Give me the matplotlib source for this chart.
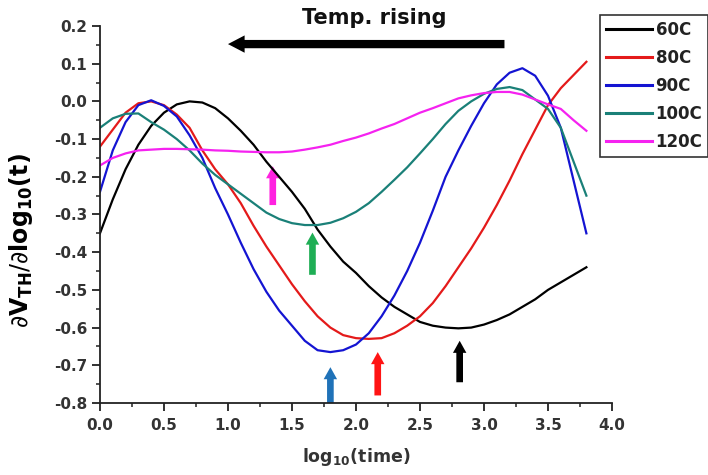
import matplotlib
matplotlib.use('Agg')
import matplotlib.pyplot as plt
import numpy as np
from matplotlib.ticker import MultipleLocator, FormatStrFormatter

plt.rcParams['font.family'] = ['DejaVu Sans']
plt.rcParams['mathtext.fontset'] = 'dejavusans'

# log10(time) sample points
x = [0.0, 0.1, 0.2, 0.3, 0.4, 0.5, 0.6, 0.7, 0.8, 0.9,
     1.0, 1.1, 1.2, 1.3, 1.4, 1.5, 1.6, 1.7, 1.8, 1.9,
     2.0, 2.1, 2.2, 2.3, 2.4, 2.5, 2.6, 2.7, 2.8, 2.9,
     3.0, 3.1, 3.2, 3.3, 3.4, 3.5, 3.6, 3.7, 3.8]

y60 = [-0.35, -0.26, -0.18, -0.115, -0.065, -0.03, -0.008, 0.0, -0.003, -0.018,
       -0.045, -0.078, -0.115, -0.16, -0.2, -0.24, -0.285, -0.34, -0.385, -0.425,
       -0.455, -0.49, -0.52, -0.545, -0.565, -0.585, -0.595, -0.6, -0.602, -0.6,
       -0.592, -0.58, -0.565, -0.545, -0.525, -0.5, -0.48, -0.46, -0.44]

y80 = [-0.12, -0.075, -0.03, -0.005, 0.0, -0.01, -0.035, -0.07, -0.13, -0.18,
       -0.22, -0.27, -0.33, -0.385, -0.435, -0.485, -0.53, -0.57, -0.6, -0.62,
       -0.628, -0.63, -0.628, -0.615, -0.595, -0.57, -0.535, -0.49, -0.44, -0.39,
       -0.335, -0.275, -0.21, -0.14, -0.075, -0.01, 0.035, 0.07, 0.105]

y90 = [-0.24, -0.13, -0.055, -0.01, 0.003, -0.012, -0.04, -0.09, -0.15, -0.23,
       -0.3, -0.375, -0.445, -0.505, -0.555, -0.595, -0.635, -0.66, -0.665, -0.66,
       -0.645, -0.615, -0.57, -0.515, -0.45, -0.375, -0.29, -0.2, -0.13, -0.065,
       -0.005, 0.045, 0.076, 0.088, 0.068, 0.015, -0.07, -0.21, -0.35]

y100 = [-0.07, -0.045, -0.033, -0.032, -0.055, -0.075, -0.1, -0.13, -0.165, -0.195,
        -0.22, -0.245, -0.27, -0.295, -0.312, -0.323, -0.328, -0.328, -0.322, -0.31,
        -0.293, -0.27, -0.24, -0.208, -0.175, -0.138, -0.1, -0.06, -0.025, 0.0,
        0.02, 0.033, 0.038, 0.03, 0.005, -0.02, -0.07, -0.16, -0.25]

y120 = [-0.17, -0.15, -0.138, -0.13, -0.128, -0.126, -0.126, -0.127, -0.128, -0.13,
        -0.131, -0.133, -0.134, -0.135, -0.135, -0.133, -0.128, -0.122, -0.115, -0.105,
        -0.096, -0.085, -0.072, -0.06, -0.045, -0.03, -0.018, -0.005, 0.008, 0.016,
        0.022, 0.025, 0.025, 0.018, 0.005, -0.008, -0.02, -0.05, -0.078]

labels = ['60C', '80C', '90C', '100C', '120C']
colors = ['black', '#e41a1a', '#1414d2', '#1a8078', '#f522f0']

# minimum markers: x position, base, tip, colour
arrow_x = [1.35, 1.66, 1.80, 2.17, 2.81]
arrow_base = [-0.275, -0.46, -0.80, -0.78, -0.745]
arrow_tip = [-0.172, -0.348, -0.705, -0.665, -0.635]
arrow_colors = ['#ff22e0', '#1fae55', '#1f72b8', '#ff1414', 'black']

fig, ax = plt.subplots(figsize=(7.08, 4.75), dpi=100)
fig.subplots_adjust(left=0.1412, right=0.8644, bottom=0.1516, top=0.9453)

for yy, lab, c in zip([y60, y80, y90, y100, y120], labels, colors):
  ax.plot(x, yy, color=c, lw=1.6, label=lab)

for xa, yb, yt, c in zip(arrow_x, arrow_base, arrow_tip, arrow_colors):
  ax.arrow(xa, yb, 0, yt - yb, width=0.052, head_width=0.105, head_length=0.032,
           length_includes_head=True, color=c, lw=0, clip_on=False)

# "Temp. rising" arrow
ax.arrow(3.16, 0.152, -2.16, 0, width=0.022, head_width=0.046, head_length=0.13,
         length_includes_head=True, color='black', lw=0, clip_on=False)
ax.text(2.14, 0.222, 'Temp. rising', ha='center', va='center', fontsize=15,
        fontweight='bold', color='#111111', clip_on=False)

ax.set_xlim(0, 4.0)
ax.set_ylim(-0.8, 0.2)
ax.xaxis.set_major_locator(MultipleLocator(0.5))
ax.xaxis.set_minor_locator(MultipleLocator(0.25))
ax.yaxis.set_major_locator(MultipleLocator(0.1))
ax.yaxis.set_minor_locator(MultipleLocator(0.05))
ax.xaxis.set_major_formatter(FormatStrFormatter('%.1f'))
ax.yaxis.set_major_formatter(FormatStrFormatter('%.1f'))

for s in ['top', 'right']:
  ax.spines[s].set_visible(False)
for s in ['left', 'bottom']:
  ax.spines[s].set_linewidth(1.3)
  ax.spines[s].set_color('#222222')

ax.tick_params(which='major', direction='out', length=6, width=1.3, color='#222222',
               labelsize=11, labelcolor='#333333')
ax.tick_params(which='minor', direction='out', length=3, width=1.1, color='#222222')
ax.tick_params(axis='x', which='major', pad=5)
ax.tick_params(axis='y', which='major', pad=3)
for t in ax.get_xticklabels() + ax.get_yticklabels():
  t.set_fontweight('bold')

ax.set_xlabel(r'log$_{\mathbf{10}}$(time)', fontsize=12.5, fontweight='bold',
              color='#333333', labelpad=9)
ax.set_ylabel(r'$\partial\mathbf{V}_{\mathbf{TH}}/\partial\mathbf{log}_{\mathbf{10}}\mathbf{(t)}$',
              fontsize=17)
ax.yaxis.set_label_coords(-0.127, 0.43)

leg = ax.legend(loc='upper left', bbox_to_anchor=(0.847, 0.968),
                bbox_transform=fig.transFigure, frameon=True, fancybox=False,
                edgecolor='black', fontsize=12, handlelength=2.8,
                handletextpad=0.2, labelspacing=0.6, borderpad=0.35,
                borderaxespad=0)
leg.get_frame().set_linewidth(1.2)
for t in leg.get_texts():
  t.set_fontweight('bold')
  t.set_color('#222222')
for l in leg.get_lines():
  l.set_linewidth(2.2)

fig.savefig('out.png', dpi=100, facecolor='white')
